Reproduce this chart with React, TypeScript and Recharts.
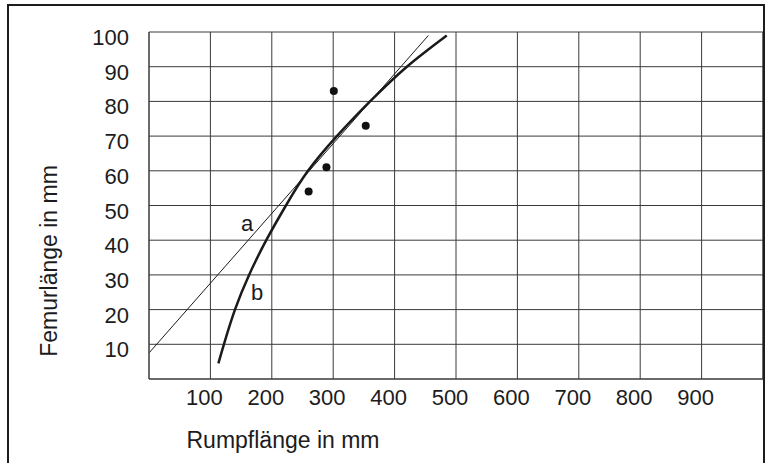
import {
  ComposedChart,
  Line,
  Scatter,
  XAxis,
  YAxis,
  CartesianGrid,
  ReferenceLine,
  ReferenceDot,
} from 'recharts';

const xTicks = [100, 200, 300, 400, 500, 600, 700, 800, 900];
const yTicks = [10, 20, 30, 40, 50, 60, 70, 80, 90, 100];

// line a: straight regression line
const lineA = [
  { x: 0, y: 7.5 },
  { x: 455, y: 99 },
];

// curve b
const lineB = [
  { x: 113, y: 4.5 },
  { x: 122, y: 10 },
  { x: 140, y: 20 },
  { x: 163, y: 30 },
  { x: 191, y: 40 },
  { x: 223, y: 50 },
  { x: 259, y: 60 },
  { x: 306, y: 70 },
  { x: 360, y: 80 },
  { x: 420, y: 90 },
  { x: 485, y: 99 },
];

// measured specimens
const specimens = [
  { x: 260, y: 54 },
  { x: 289, y: 61 },
  { x: 301, y: 83 },
  { x: 353, y: 73 },
];

const curveLabels = [
  { name: 'a', x: 160, y: 45 },
  { name: 'b', x: 176, y: 25 },
];

const font = '"Liberation Sans", Arial, sans-serif';
const ink = '#1c1c1c';
const gridColor = '#3a3a3a';

const XTick = (props: any) => {
  const { x, y, payload } = props;
  return (
    <text x={x - 6} y={y + 18} textAnchor='middle' fontSize={22} fill={ink} fontFamily={font}>
      {payload.value}
    </text>
  );
};

const YTick = (props: any) => {
  const { x, y, payload } = props;
  return (
    <text x={x - 12} y={y + 13} textAnchor='end' fontSize={22} fill={ink} fontFamily={font}>
      {payload.value}
    </text>
  );
};

const YTitle = () => (
  <text
    x={57}
    y={261}
    transform='rotate(-90 57 261)'
    textAnchor='middle'
    fontSize={23}
    fill={ink}
    fontFamily={font}
  >
    Femurlänge in mm
  </text>
);

const XTitle = () => (
  <text x={283} y={448} textAnchor='middle' fontSize={23} fill={ink} fontFamily={font}>
    Rumpflänge in mm
  </text>
);

const App = () => {
  return (
    <div
      style={{
        position: 'absolute',
        left: 0,
        top: 0,
        width: 769,
        height: 463,
        overflow: 'hidden',
        background: '#fff',
      }}
    >
      <div style={{ position: 'absolute', left: 0, top: 0 }}>
        <ComposedChart
          width={769}
          height={463}
          margin={{ top: 32, right: 6, bottom: 0, left: 0 }}
        >
          <CartesianGrid
            stroke={gridColor}
            strokeWidth={1}
            horizontalValues={yTicks}
            verticalValues={xTicks}
          />
          <XAxis
            type='number'
            dataKey='x'
            domain={[0, 1000]}
            ticks={xTicks}
            tick={<XTick />}
            tickLine={false}
            axisLine={{ stroke: gridColor, strokeWidth: 1.5 }}
            height={84}
            label={<XTitle />}
            allowDataOverflow
          />
          <YAxis
            type='number'
            dataKey='y'
            domain={[0, 100]}
            ticks={yTicks}
            tick={<YTick />}
            tickLine={false}
            axisLine={{ stroke: gridColor, strokeWidth: 1.5 }}
            width={149}
            label={<YTitle />}
            allowDataOverflow
          />
          <ReferenceLine x={1000} stroke={gridColor} strokeWidth={1.5} />
          <Line
            data={lineA}
            dataKey='y'
            type='linear'
            stroke='#1a1a1a'
            strokeWidth={1}
            dot={false}
            activeDot={false}
            isAnimationActive={false}
          />
          <Line
            data={lineB}
            dataKey='y'
            type='natural'
            stroke='#1a1a1a'
            strokeWidth={2.5}
            dot={false}
            activeDot={false}
            isAnimationActive={false}
          />
          <Scatter
            data={specimens}
            dataKey='y'
            fill='#111'
            shape={(p: any) => <circle cx={p.cx} cy={p.cy} r={4} fill='#111' />}
            isAnimationActive={false}
          />
          {curveLabels.map((l) => (
            <ReferenceDot
              key={l.name}
              x={l.x}
              y={l.y}
              r={0}
              fill='none'
              stroke='none'
              label={{
                value: l.name,
                position: 'center',
                fontSize: 22,
                fill: ink,
                fontFamily: font,
              }}
            />
          ))}
        </ComposedChart>
      </div>
      <div
        style={{
          position: 'absolute',
          left: 7,
          top: 4,
          width: 754,
          height: 520,
          border: `2px solid ${ink}`,
          pointerEvents: 'none',
        }}
      />
    </div>
  );
};

export default App;
